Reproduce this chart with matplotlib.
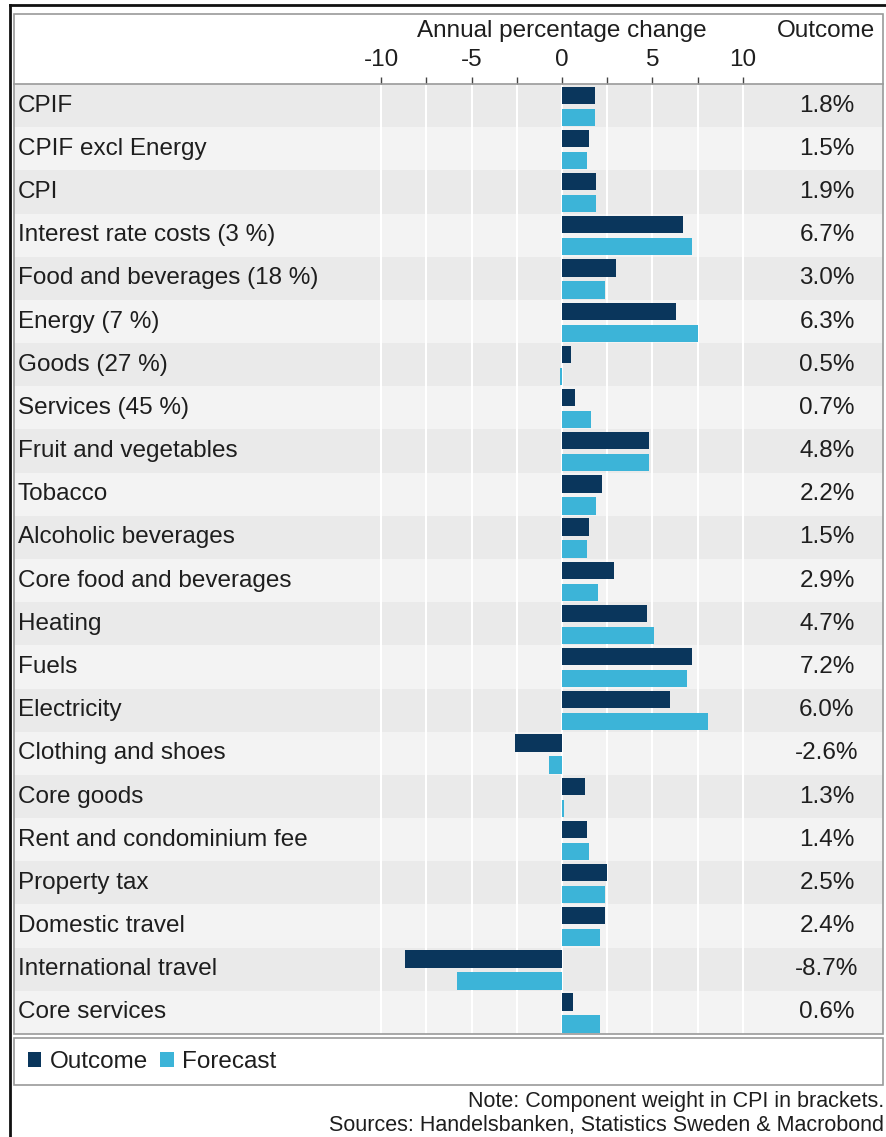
import numpy as np
import matplotlib.pyplot as plt
from matplotlib.patches import Rectangle

plt.rcParams['font.family'] = ['Liberation Sans', 'DejaVu Sans']

categories = ['CPIF', 'CPIF excl Energy', 'CPI', 'Interest rate costs (3 %)',
              'Food and beverages (18 %)', 'Energy (7 %)', 'Goods (27 %)',
              'Services (45 %)', 'Fruit and vegetables', 'Tobacco',
              'Alcoholic beverages', 'Core food and beverages', 'Heating',
              'Fuels', 'Electricity', 'Clothing and shoes', 'Core goods',
              'Rent and condominium fee', 'Property tax', 'Domestic travel',
              'International travel', 'Core services']
outcome = [1.8, 1.5, 1.9, 6.7, 3.0, 6.3, 0.5, 0.7, 4.8, 2.2, 1.5, 2.9,
           4.7, 7.2, 6.0, -2.6, 1.3, 1.4, 2.5, 2.4, -8.7, 0.6]
forecast = [1.8, 1.4, 1.9, 7.2, 2.4, 7.5, -0.1, 1.6, 4.8, 1.9, 1.4, 2.0,
            5.1, 6.9, 8.1, -0.7, 0.1, 1.5, 2.4, 2.1, -5.8, 2.1]
major_ticks = [-10, -5, 0, 5, 10]
minor_ticks = [-7.5, -2.5, 2.5, 7.5]

W, H = 886, 1137
navy = '#0a365c'
light = '#3cb4d8'
txt = '#1e1e1e'
fs = 17.5

fig = plt.figure(figsize=(W / 100, H / 100), dpi=100)

# axes box in pixel coordinates
left, right, top, bottom = 14, 883, 84, 1034
ax = fig.add_axes([left / W, 1 - bottom / H, (right - left) / W, (bottom - top) / H])
zero_px, px_per_unit = 562, 18.07
ax.set_xlim(-(zero_px - left) / px_per_unit, (right - zero_px) / px_per_unit)
n = len(categories)
ax.set_ylim(n - 0.5, -0.5)

y = np.arange(n)
for i in range(n):
    ax.axhspan(i - 0.5, i + 0.5, color='#eaeaea' if i % 2 == 0 else '#f3f3f3', lw=0, zorder=0)
for g in major_ticks + minor_ticks:
    ax.axvline(g, color='white', lw=1.5, zorder=1)

ax.barh(y - 0.24, outcome, height=0.4, color=navy, zorder=2, label='Outcome')
ax.barh(y + 0.27, forecast, height=0.4, color=light, zorder=2, label='Forecast')

for i in range(n):
    ax.text(0.0046, i, categories[i], transform=ax.get_yaxis_transform(),
            ha='left', va='center', fontsize=fs, color=txt)
    ax.text((827 - left) / (right - left), i, f'{outcome[i]:.1f}%',
            transform=ax.get_yaxis_transform(), ha='center', va='center',
            fontsize=fs, color=txt)

ax.xaxis.set_ticks_position('top')
ax.set_xticks(major_ticks)
ax.set_xticks(minor_ticks, minor=True)
ax.set_xticklabels([str(t) for t in major_ticks])
ax.tick_params(axis='x', which='both', direction='out', length=5, width=1,
               color='#444444', labelsize=fs, labelcolor=txt, pad=4)
ax.set_yticks([])
for s in ax.spines.values():
    s.set_visible(False)

# frames
def box(x0, y0, x1, y1, color, lw):
    fig.patches.append(Rectangle((x0 / W, 1 - y1 / H), (x1 - x0) / W, (y1 - y0) / H,
                                 transform=fig.transFigure, fill=False,
                                 edgecolor=color, lw=lw))

box(14, 14, 883, 1034, '#9a9a9a', 1.2)
box(14, 1038, 883, 1085, '#9a9a9a', 1.2)
fig.add_artist(plt.Line2D([14 / W, 883 / W], [1 - 84 / H, 1 - 84 / H],
                          color='#9a9a9a', lw=1.2))
fig.add_artist(plt.Line2D([10 / W, 10 / W], [0, 1 - 5 / H], color='#111111', lw=2))
fig.add_artist(plt.Line2D([10 / W, 1], [1 - 5 / H, 1 - 5 / H], color='#111111', lw=2))

fig.text(zero_px / W, 1 - 31 / H, 'Annual percentage change', ha='center', va='center',
         fontsize=fs, color=txt)
fig.text(826 / W, 1 - 31 / H, 'Outcome', ha='center', va='center', fontsize=fs, color=txt)

fig.legend(loc='center left', bbox_to_anchor=(28 / W, 1 - 1062 / H), ncol=2,
           frameon=False, fontsize=fs, handlelength=0.55, handleheight=0.55,
           handletextpad=0.35, columnspacing=0.5, labelcolor=txt,
           borderpad=0, borderaxespad=0)

fig.text(884 / W, 1 - 1101 / H, 'Note: Component weight in CPI in brackets.',
         ha='right', va='center', fontsize=15.5, color=txt)
fig.text(884 / W, 1 - 1125 / H, 'Sources: Handelsbanken, Statistics Sweden & Macrobond',
         ha='right', va='center', fontsize=15.5, color=txt)

fig.savefig('out.png', dpi=100)
